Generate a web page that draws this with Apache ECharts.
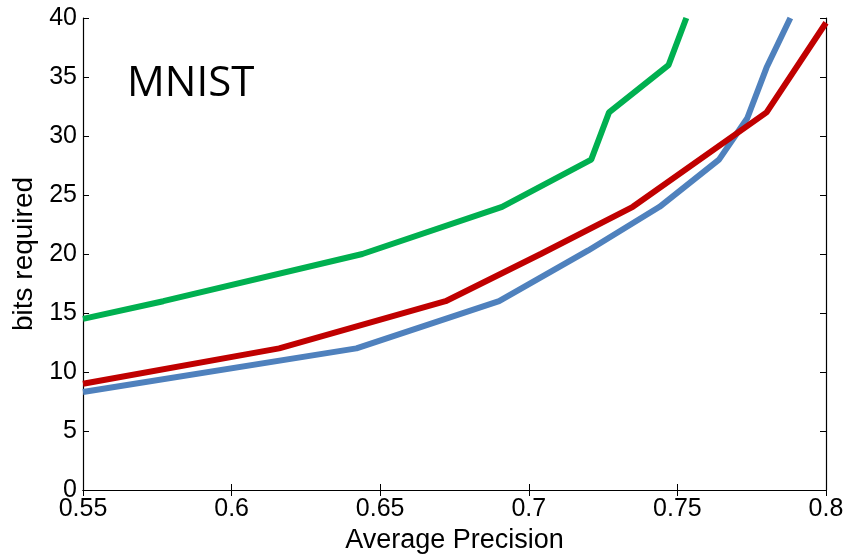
<!DOCTYPE html>
<html>
<head>
<meta charset="utf-8">
<script src="https://cdn.jsdelivr.net/npm/echarts@6/dist/echarts.min.js"></script>
<style>
  html, body { margin: 0; padding: 0; background: #fff; }
  #main { width: 848px; height: 554px; }
</style>
</head>
<body>
<div id="main"></div>
<script>
// data: [average precision, bits]
var greenLine = [[0.55, 14.5], [0.577, 16], [0.644, 20], [0.691, 24], [0.721, 28], [0.727, 32], [0.747, 36], [0.753, 40]];
var redLine = [[0.55, 9], [0.616, 12], [0.672, 16], [0.704, 20], [0.735, 24], [0.78, 32], [0.8, 39.6]];
var blueLine = [[0.55, 8.3], [0.642, 12], [0.690, 16], [0.720, 20.3], [0.744, 24], [0.764, 28], [0.7735, 31.5], [0.780, 35.8], [0.788, 40]];
var xTicks = [0.55, 0.6, 0.65, 0.7, 0.75, 0.8];
var yTicks = [0, 5, 10, 15, 20, 25, 30, 35, 40];

var font = 'Liberation Sans, Arial, sans-serif';
var chart = echarts.init(document.getElementById('main'));

function lineSeries(data, color) {
  return {
    type: 'line',
    data: data,
    symbol: 'none',
    lineStyle: { color: color, width: 6 },
    clip: true
  };
}

var axisLine = { show: true, lineStyle: { color: '#000', width: 1.2 } };
var tickIn = { show: true, inside: true, length: 6, lineStyle: { color: '#000' } };

var option = {
  backgroundColor: '#fff',
  animation: false,
  grid: { left: 83, right: 22, top: 18, bottom: 64, containLabel: false, outerBoundsMode: 'none' },
  title: {
    text: 'MNIST',
    left: 122,
    top: 58,
    textStyle: { fontFamily: 'Open Sans, Noto Sans, sans-serif', fontWeight: 'normal', fontSize: 42, color: '#000' }
  },
  xAxis: [
    {
      type: 'value', min: 0.55, max: 0.8, interval: 0.05,
      axisLine: axisLine, axisTick: tickIn, splitLine: { show: false },
      axisLabel: {
        color: '#000', fontSize: 25, fontFamily: font, margin: 7,
        formatter: function (v) { return xTicks.indexOf(+v.toFixed(2)) >= 0 ? String(+v.toFixed(2)) : ''; }
      },
      name: 'Average Precision', nameLocation: 'middle', nameGap: 35,
      nameTextStyle: { color: '#000', fontSize: 27, fontFamily: font }
    },
    {
      type: 'value', position: 'top', min: 0.55, max: 0.8, interval: 0.05,
      axisLine: axisLine, axisTick: tickIn, axisLabel: { show: false }, splitLine: { show: false }
    }
  ],
  yAxis: [
    {
      type: 'value', min: 0, max: 40, interval: 5,
      axisLine: axisLine, axisTick: tickIn, splitLine: { show: false },
      axisLabel: {
        color: '#000', fontSize: 25, fontFamily: font, margin: 6,
        formatter: function (v) { return yTicks.indexOf(v) >= 0 ? String(v) : ''; }
      },
      name: 'bits required', nameLocation: 'middle', nameGap: 42, nameRotate: 90,
      nameTextStyle: { color: '#000', fontSize: 28, fontFamily: font }
    },
    {
      type: 'value', position: 'right', min: 0, max: 40, interval: 5,
      axisLine: axisLine, axisTick: tickIn, axisLabel: { show: false }, splitLine: { show: false }
    }
  ],
  series: [
    lineSeries(greenLine, '#00b050'),
    lineSeries(blueLine, '#4f81bd'),
    lineSeries(redLine, '#c00000')
  ]
};
chart.setOption(option);
</script>
</body>
</html>
